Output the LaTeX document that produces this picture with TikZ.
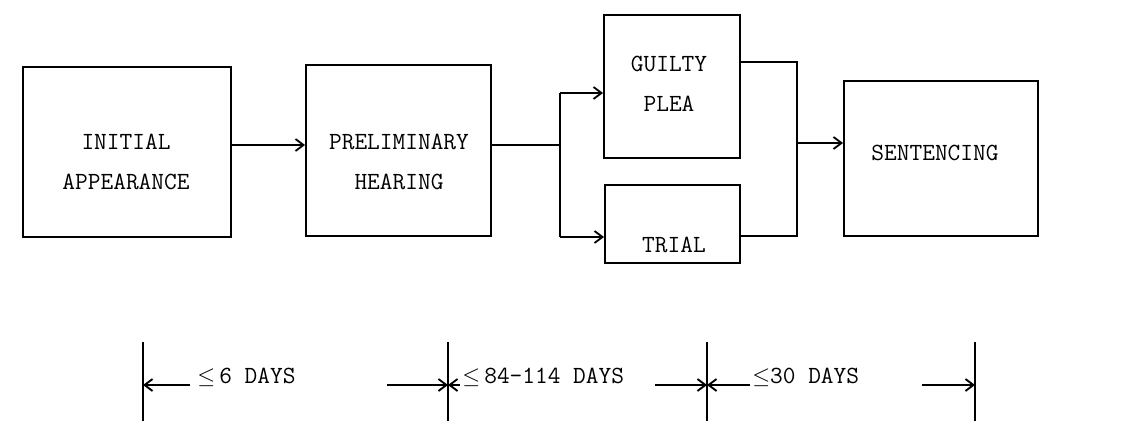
\documentclass[tikz,border=0pt]{standalone}
\usetikzlibrary{arrows.meta}
\begin{document}
\begin{tikzpicture}[x=0.75pt,y=-0.75pt,
  box/.style={draw,line width=1.4pt,inner sep=0pt},
  txt/.style={font=\fontsize{18.5}{30}\selectfont\ttfamily,align=center,inner sep=0pt},
  line/.style={line width=1.4pt},
  arr/.style={line width=1.4pt,-{Straight Barb[length=6pt,width=9pt,line width=1.4pt]}}]
\useasboundingbox[fill=white] (0,0) rectangle (1121,421);
% boxes
\node[box,minimum width=156pt,minimum height=127.5pt] (ia) at (127,152) {};
\node[box,minimum width=138.75pt,minimum height=128.25pt] (ph) at (398.5,150.5) {};
\node[box,minimum width=102pt,minimum height=107.25pt] (gp) at (672,86.5) {};
\node[box,minimum width=101.25pt,minimum height=58.5pt] (tr) at (672.5,224) {};
\node[box,minimum width=145.5pt,minimum height=116.25pt] (se) at (941,158.5) {};
% texts
\node[txt] (tia) at (126,162) {INITIAL\\APPEARANCE};
\node[txt] (tph) at (399,162) {PRELIMINARY\\HEARING};
\node[txt] (tgp) at (669,84) {GUILTY\\PLEA};
\node[txt] (ttr) at (674,245) {TRIAL};
\node[txt] (tse) at (935,153) {SENTENCING};
% connectors
\coordinate (split) at (560,145);
\coordinate (join) at (797,143);
\draw[arr] (ia.east|-0,145) -- (ph.west|-0,145);
\draw[line] (ph.east|-0,145) -- (split);
\draw[line] (split|-0,93) -- (split|-0,237);
\draw[arr] (split|-0,93) -- (gp.west|-0,93);
\draw[arr] (split|-0,237) -- (tr.west|-0,237);
\draw[line] (gp.east|-0,62) -- (join|-0,62) -- (join|-0,236) -- (tr.east|-0,236);
\draw[arr] (join) -- (se.west|-0,143);
% timeline
\coordinate (b1) at (143,342);
\coordinate (b2) at (448,342);
\coordinate (b3) at (707,342);
\coordinate (b4) at (975,342);
\foreach \b in {b1,b2,b3,b4} \draw[line] (\b) -- (\b|-0,421);
\coordinate (a1) at (190,385);
\coordinate (a2) at (387,385);
\coordinate (a3) at (460,385);
\coordinate (a4) at (655,385);
\coordinate (a5) at (750,385);
\coordinate (a6) at (922,385);
\draw[arr] (a1) -- (b1|-a1);
\draw[arr] (a2) -- (b2|-a2);
\draw[arr] (a3) -- (b2|-a3);
\draw[arr] (a4) -- (b3|-a4);
\draw[arr] (a5) -- (b3|-a5);
\draw[arr] (a6) -- (b4|-a6);
\node[txt,anchor=base west] (d1) at (197,383) {$\leq$\,6 DAYS};
\node[txt,anchor=base west] (d2) at (462,383) {$\leq$\,84-114 DAYS};
\node[txt,anchor=base west] (d3) at (752,383) {$\leq$30 DAYS};
\end{tikzpicture}
\end{document}
